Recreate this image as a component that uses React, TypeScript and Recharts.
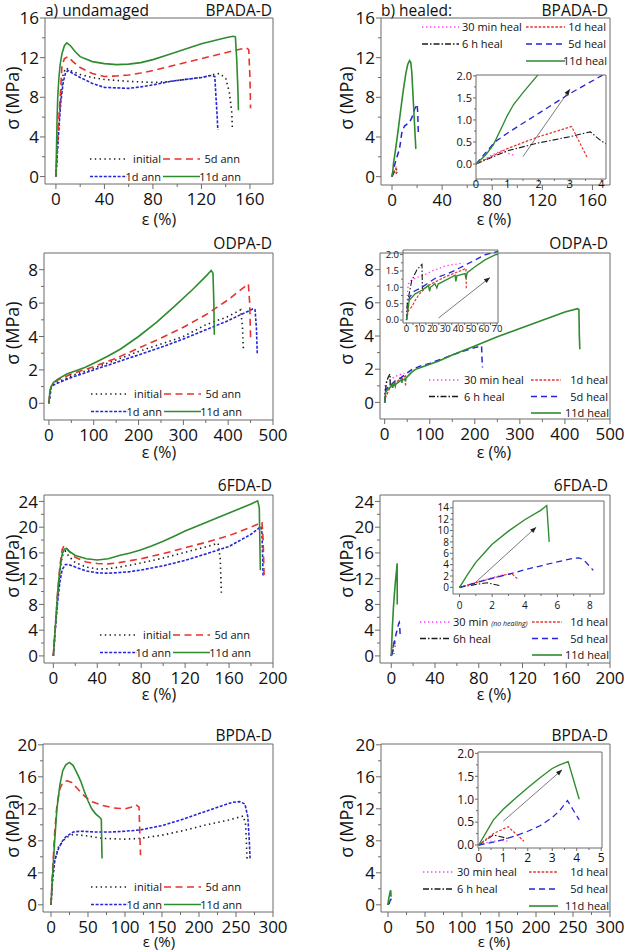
import React from 'react'
import { LineChart, Line, XAxis, YAxis } from 'recharts'

const FONT = "'Open Sans', 'DejaVu Sans', sans-serif"
const AXIS = '#6b6b6b'
const INK = '#111'

// ---------- data: strain ε (%), stress σ (MPa) ----------

// BPADA-D, undamaged / annealed
const bpadaInitial = [[0, 0], [2, 4.5], [4, 8], [6, 10.3], [8, 10.95], [12, 10.7], [20, 10.3], [30, 10], [40, 9.8], [50, 9.7], [60, 9.6], [70, 9.55], [80, 9.5], [90, 9.55], [100, 9.7], [110, 9.85], [120, 10.0], [130, 10.3], [135, 10.4], [140, 9.9], [143, 8.5], [145, 6.5], [145.5, 4.8]]
const bpada1d = [[0, 0], [2, 4], [4, 7.5], [6, 9.5], [8, 10.5], [10, 10.7], [14, 10.4], [20, 10], [30, 9.4], [40, 9.0], [50, 8.95], [60, 8.9], [70, 9.05], [80, 9.25], [90, 9.5], [100, 9.7], [110, 9.85], [120, 10.0], [128, 10.2], [131, 10.1], [132, 8], [133, 6], [133.5, 4.7]]
const bpada5d = [[0, 0], [2, 5], [4, 9], [5, 11.2], [7, 11.9], [10, 12.1], [14, 11.6], [20, 11], [30, 10.4], [40, 10.1], [50, 10.15], [60, 10.25], [70, 10.45], [80, 10.7], [90, 11], [100, 11.3], [110, 11.6], [120, 11.9], [130, 12.2], [140, 12.5], [150, 12.8], [157, 13.0], [159, 12.8], [160, 10], [160.5, 6.9]]
const bpada11d = [[0, 0], [0.5, 3], [1, 6], [1.5, 8], [2.5, 10], [3.5, 11.3], [5, 12.4], [7, 13.2], [9, 13.5], [12, 13.2], [16, 12.6], [20, 12.1], [30, 11.6], [40, 11.4], [50, 11.3], [60, 11.35], [70, 11.5], [80, 11.8], [90, 12.2], [100, 12.6], [110, 13.0], [120, 13.4], [130, 13.7], [140, 14.0], [146, 14.15], [148, 14.1], [149, 12], [150, 9], [150.5, 6.7]]

// BPADA-D, healed
const bpadaH30min = [[0, 0], [0.5, 0.2], [0.8, 0.3], [1.0, 0.25], [1.2, 0.2]]
const bpadaH6h = [[0, 0], [1, 0.3], [2, 0.48], [3, 0.62], [3.65, 0.73], [4, 0.52], [4.3, 0.4]]
const bpadaH1d = [[0, 0], [1, 0.35], [2, 0.62], [3.05, 0.85], [3.55, 0.15]]
const bpadaH5d = [[0, 0], [0.3, 0.25], [0.6, 0.5], [1, 0.7], [2, 1.15], [3, 1.6], [4, 2.0], [6, 2.8], [8, 4.6], [10, 5.1], [12, 5.3], [14, 5.5], [16, 6.0], [18, 6.8], [20, 7.3], [20.5, 6.5], [21, 4.4]]
const bpadaH11d = [[0, 0], [0.3, 0.2], [0.55, 0.43], [0.8, 0.8], [1.0, 1.1], [1.2, 1.35], [1.5, 1.62], [1.95, 2.0], [3, 2.9], [5, 4.8], [7, 6.8], [9, 8.7], [11, 10.4], [12.5, 11.3], [14, 11.7], [15, 11.5], [15.8, 10.5], [17, 7.6], [19, 2.8]]
const bpadaArrow = [[1.5, 0.17], [3.0, 1.7]]

// ODPA-D, undamaged / annealed
const odpaInitial = [[0, 0], [5, 1.0], [10, 1.15], [50, 1.65], [100, 2.1], [150, 2.6], [200, 3.1], [250, 3.55], [300, 4.0], [350, 4.7], [400, 5.2], [428, 5.6], [432, 4.5], [434, 3.2]]
const odpa1d = [[0, 0], [5, 0.95], [10, 1.1], [50, 1.55], [100, 2.0], [150, 2.45], [200, 2.9], [250, 3.35], [300, 3.85], [350, 4.4], [400, 4.95], [455, 5.65], [460, 5.6], [463, 4.5], [465, 2.9]]
const odpa5d = [[0, 0], [2, 0.7], [5, 1.0], [10, 1.2], [20, 1.4], [50, 1.75], [100, 2.2], [150, 2.7], [200, 3.3], [250, 3.9], [300, 4.55], [350, 5.3], [400, 6.2], [440, 7.05], [445, 7.15], [448, 6], [450, 3.9]]
const odpa11d = [[0, 0], [2, 0.7], [5, 1.0], [10, 1.25], [20, 1.45], [40, 1.75], [60, 1.95], [80, 2.15], [100, 2.4], [130, 2.8], [160, 3.25], [200, 4.0], [240, 4.85], [280, 5.8], [320, 6.8], [350, 7.6], [362, 7.95], [366, 7.8], [368, 6], [369, 4.1]]

// ODPA-D, healed
const odpaH30min = [[0, 0], [0.5, 0.6], [1, 0.95], [1.5, 1.1], [3, 1.2], [8, 1.3], [15, 1.4], [20, 1.5], [30, 1.65], [40, 1.72], [44, 1.75]]
const odpaH6h = [[0, 0], [0.5, 0.45], [1.6, 0.7], [4, 1.2], [8, 1.53], [11.3, 1.68], [12, 1.7], [12.3, 0.95]]
const odpaH1d = [[0, 0], [1.6, 0.3], [4, 0.4], [6.7, 0.6], [10, 0.8], [17, 1.06], [30, 1.32], [42.7, 1.52], [46, 1.58], [46.3, 0.96]]
const odpaH5d = [[0, 0], [1, 0.45], [2.4, 0.7], [6, 0.88], [11.9, 1.0], [22, 1.27], [35, 1.47], [48, 1.73], [60.7, 1.99], [80, 2.2], [100, 2.35], [130, 2.65], [150, 2.85], [170, 3.05], [200, 3.3], [215, 3.4], [216, 2.6], [217, 2.1]]
const odpaH11d = [[0, 0], [2.1, 0.6], [6.7, 0.8], [11.9, 0.91], [17, 1.06], [17.9, 0.88], [18.5, 1.0], [22, 1.11], [23.5, 0.98], [24.5, 1.1], [30, 1.21], [37.6, 1.37], [38.2, 1.18], [39, 1.35], [45.3, 1.42], [46, 1.27], [47, 1.45], [53, 1.63], [60.7, 1.84], [68.5, 1.99], [80, 2.1], [100, 2.3], [120, 2.5], [150, 2.85], [200, 3.4], [250, 3.95], [300, 4.45], [350, 4.95], [400, 5.45], [428, 5.65], [431, 5.6], [432, 4], [433, 3.2]]
const odpaArrow = [[24.7, 0.06], [64.6, 1.3]]

// 6FDA-D, undamaged / annealed
const fdaInitial = [[0, 0], [2, 5], [4, 9.5], [6, 13], [8, 15.5], [11, 16.3], [14, 15.5], [20, 14.5], [30, 13.8], [40, 13.5], [50, 13.55], [60, 13.8], [70, 14.1], [80, 14.45], [100, 15.2], [120, 16.1], [140, 17.0], [150, 17.5], [152, 15], [153, 9.7]]
const fda1d = [[0, 0], [2, 4.5], [4, 8.5], [6, 11.5], [8, 13.4], [11, 14.2], [14, 14.2], [20, 13.8], [30, 13.2], [40, 12.9], [50, 12.85], [60, 12.95], [70, 13.1], [80, 13.35], [100, 14.0], [120, 14.85], [140, 15.9], [160, 17.0], [180, 18.9], [189, 20.1], [190, 19], [191, 12.5]]
const fda5d = [[0, 0], [2, 5], [4, 10], [6, 14], [8, 16.5], [10, 17.2], [14, 16.3], [20, 15.3], [30, 14.6], [40, 14.35], [50, 14.3], [60, 14.5], [70, 14.8], [80, 15.1], [100, 15.9], [120, 16.8], [140, 17.7], [160, 18.7], [180, 20.0], [190, 20.8], [191, 18], [192, 12]]
const fda11d = [[0, 0], [2, 5], [4, 10], [6, 13.5], [8, 15.8], [10, 16.6], [12, 16.7], [15, 16.2], [20, 15.6], [30, 15.1], [40, 14.9], [50, 15.1], [60, 15.6], [70, 16.0], [80, 16.5], [90, 17.1], [100, 17.8], [110, 18.6], [120, 19.4], [130, 20.1], [140, 20.8], [150, 21.5], [160, 22.2], [170, 22.9], [180, 23.6], [186, 24.1], [187.5, 23], [188, 18], [188.5, 13.3]]

// 6FDA-D, healed
const fdaH30min = [[0, 0], [1, 0.9], [2, 1.7], [2.8, 2.3]]
const fdaH6h = [[0, 0], [1, 0.5], [1.7, 0.8], [2.5, 0.3]]
const fdaH1d = [[0, 0], [1, 0.8], [2, 1.6], [3, 2.35], [3.2, 2.4], [3.6, 1.4]]
const fdaH5d = [[0, 0], [1, 0.8], [2, 1.6], [3, 2.3], [4, 3.1], [5, 3.8], [6, 4.5], [7, 5.1], [7.3, 5.2], [7.6, 4.9], [8.2, 3.0]]
const fdaH11d = [[0, 0], [0.5, 2.3], [1, 4.4], [1.5, 6], [2, 7.6], [3, 9.9], [4, 11.9], [5, 13.6], [5.35, 14.4], [5.5, 8.0]]
const fdaArrow = [[0.8, 0.4], [4.7, 10.6]]

// BPDA-D, undamaged / annealed
const bpdaInitial = [[0, 0], [2, 3], [5, 5.5], [10, 7.2], [20, 8.4], [30, 8.8], [50, 8.6], [70, 8.3], [100, 8.2], [120, 8.3], [150, 8.7], [180, 9.3], [210, 10], [240, 10.6], [260, 11.1], [263, 10], [264, 8], [265, 5.7]]
const bpda1d = [[0, 0], [2, 3], [5, 5.5], [10, 7], [15, 7.9], [20, 8.5], [30, 9.1], [40, 9.2], [60, 9.1], [80, 9.1], [100, 9.2], [120, 9.35], [150, 9.9], [175, 10.6], [200, 11.4], [225, 12.2], [245, 12.8], [255, 12.9], [262, 12.6], [266, 11], [268, 8], [269, 5.8]]
const bpda5d = [[0, 0], [2, 4], [5, 9], [8, 12.5], [12, 14.5], [16, 15.3], [22, 15.5], [28, 15.3], [35, 14.6], [45, 13.6], [55, 12.9], [70, 12.4], [85, 12.1], [100, 12.0], [108, 12.2], [115, 12.5], [119, 12.2], [120, 9], [121, 6.2]]
const bpda11d = [[0, 0], [2, 3.5], [5, 8], [8, 12], [12, 15], [16, 16.8], [20, 17.5], [25, 17.8], [30, 17.4], [35, 16.5], [40, 15.5], [45, 14.2], [50, 13], [55, 12], [60, 11.4], [65, 11], [68, 10.7], [68.5, 8], [69, 5.8]]

// BPDA-D, healed
const bpdaH30min = [[0, 0], [0.5, 0.08], [1.0, 0.1], [1.2, 0.08]]
const bpdaH6h = [[0, 0], [0.6, 0.22], [0.9, 0.18], [1.2, 0.14]]
const bpdaH1d = [[0, 0], [0.6, 0.25], [1.2, 0.4], [1.85, 0.08]]
const bpdaH5d = [[0, 0], [0.5, 0.05], [1, 0.12], [1.5, 0.2], [2, 0.3], [2.5, 0.42], [3, 0.6], [3.3, 0.75], [3.62, 0.97], [4.1, 0.55]]
const bpdaH11d = [[0, 0], [0.6, 0.55], [1, 0.78], [1.5, 1.02], [2, 1.25], [2.5, 1.47], [3, 1.67], [3.3, 1.75], [3.65, 1.82], [4.1, 1.0]]
const bpdaArrow = [[1.0, 0.52], [3.4, 1.64]]

// ---------- tick labels ----------
const t0to160 = [0, 40, 80, 120, 160]
const t0to500 = [0, 100, 200, 300, 400, 500]
const t0to200 = [0, 40, 80, 120, 160, 200]
const t0to300 = [0, 50, 100, 150, 200, 250, 300]
const s0to16 = [0, 4, 8, 12, 16]
const s0to8 = [0, 2, 4, 6, 8]
const s0to24 = [0, 4, 8, 12, 16, 20, 24]
const s0to20 = [0, 4, 8, 12, 16, 20]
const in0to4 = [0, 1, 2, 3, 4]
const in0to5 = [0, 1, 2, 3, 4, 5]
const in0to70 = [0, 10, 20, 30, 40, 50, 60, 70]
const in0to8 = [0, 2, 4, 6, 8]
const in0to2 = [0, 0.5, 1, 1.5, 2]
const in0to14 = [0, 2, 4, 6, 8, 10, 12, 14]

// ---------- styles ----------
type Style = { stroke: string; dash?: string; width?: number }
const sInitial: Style = { stroke: '#1a1a1a', dash: '1.4 3.4', width: 1.6 }
const s1dAnn: Style = { stroke: '#2525d9', dash: '3 1.6', width: 1.6 }
const s5dAnn: Style = { stroke: '#e8322c', dash: '7 4.5', width: 1.6 }
const s11d: Style = { stroke: '#2e8b2e', width: 1.6 }
const s30min: Style = { stroke: '#ff3dff', dash: '1.4 2.6', width: 1.5 }
const s6h: Style = { stroke: '#1a1a1a', dash: '6 2 1.5 2', width: 1.3 }
const s1dHeal: Style = { stroke: '#e8322c', dash: '2.6 1.6', width: 1.4 }
const s5dHeal: Style = { stroke: '#2525d9', dash: '6 4', width: 1.5 }

type Series = { data: number[][]; style: Style }
const annSeries = (a: number[][], b: number[][], c: number[][], d: number[][]): Series[] => [
  { data: a, style: sInitial },
  { data: b, style: s1dAnn },
  { data: c, style: s5dAnn },
  { data: d, style: s11d },
]
const healSeries = (a: number[][], b: number[][], c: number[][], d: number[][], e: number[][]): Series[] => [
  { data: a, style: s30min },
  { data: b, style: s6h },
  { data: c, style: s1dHeal },
  { data: d, style: s5dHeal },
  { data: e, style: s11d },
]

const pts = (arr: number[][]) => arr.map(([x, y]) => ({ x, y }))
const mids = (arr: number[]) => arr.slice(1).map((v, i) => (v + arr[i]) / 2)

type Frame = { l: number; t: number; r: number; b: number }
type PlotProps = {
  frame: Frame
  xDomain: [number, number]
  yDomain: [number, number]
  xMajor: number[]
  yMajor: number[]
  series: Series[]
  arrow?: number[][]
  inset?: boolean
  fs?: number
  xLabelDy?: number
  fmtY?: (v: number) => string
}

function Plot(p: PlotProps) {
  const inset = !!p.inset
  const fs = p.fs ?? (inset ? 11 : 17)
  const majorLen = inset ? 3 : 5
  const minorLen = inset ? 2 : 3
  const pad = inset ? { l: 26, t: 8, r: 6, b: 22 } : { l: 45, t: 12, r: 24, b: 32 }
  const w = p.frame.r - p.frame.l + pad.l + pad.r
  const h = p.frame.b - p.frame.t + pad.t + pad.b
  const fmtY = p.fmtY ?? ((v: number) => String(v))
  const xLabelDy = p.xLabelDy ?? (inset ? 9 : 21)
  const has = (list: number[], v: number) => list.some((m) => Math.abs(m - v) < 1e-9)

  const xTick = (props: any) => {
    const { x, y, payload } = props
    const major = has(p.xMajor, payload.value)
    return (
      <g>
        <line x1={x} x2={x} y1={y} y2={y + (major ? majorLen : minorLen)} stroke={AXIS} />
        {major && (
          <text x={x} y={y + xLabelDy} textAnchor="middle" fontSize={fs} fontFamily={FONT} fill={INK}>
            {payload.value}
          </text>
        )}
      </g>
    )
  }
  const yTick = (props: any) => {
    const { x, y, payload } = props
    const major = has(p.yMajor, payload.value)
    return (
      <g>
        <line x1={x - (major ? majorLen : minorLen)} x2={x} y1={y} y2={y} stroke={AXIS} />
        {major && (
          <text x={x - (inset ? 4 : 6)} y={y + fs * 0.36} textAnchor="end" fontSize={fs} fontFamily={FONT} fill={INK}>
            {fmtY(payload.value)}
          </text>
        )}
      </g>
    )
  }

  let prev: { x: number; y: number } | null = null
  const arrowDot = (props: any) => {
    const { cx, cy, index } = props
    if (index === 0 || prev === null) {
      prev = { x: cx, y: cy }
      return <g key={`a${index}`} />
    }
    const ang = Math.atan2(cy - prev.y, cx - prev.x)
    const L = 6, W = 2.4
    const bx = cx - L * Math.cos(ang), by = cy - L * Math.sin(ang)
    const nx = -Math.sin(ang) * W, ny = Math.cos(ang) * W
    return <path key={`a${index}`} d={`M${cx},${cy} L${bx + nx},${by + ny} L${bx - nx},${by - ny} Z`} fill="#222" />
  }

  // axes get a 1px box (a 0px axis is not drawn), taken out of the margins
  return (
    <div style={{ position: 'absolute', left: p.frame.l - pad.l, top: p.frame.t - pad.t }}>
      <LineChart width={w} height={h} margin={{ top: pad.t - 1, right: pad.r - 1, bottom: pad.b - 1, left: pad.l - 1 }}>
        <XAxis
          type="number"
          dataKey="x"
          domain={p.xDomain}
          allowDataOverflow
          ticks={[...p.xMajor, ...mids(p.xMajor)].sort((a, b) => a - b)}
          interval={0}
          height={1}
          tickSize={0}
          tickMargin={0}
          tickLine={false}
          axisLine={{ stroke: AXIS }}
          tick={xTick}
        />
        <YAxis
          type="number"
          domain={p.yDomain}
          allowDataOverflow
          ticks={[...p.yMajor, ...mids(p.yMajor)].sort((a, b) => a - b)}
          interval={0}
          width={1}
          tickSize={0}
          tickMargin={0}
          tickLine={false}
          axisLine={{ stroke: AXIS }}
          tick={yTick}
        />
        <XAxis xAxisId="top" orientation="top" type="number" domain={p.xDomain} allowDataOverflow height={1} tick={false} tickLine={false} axisLine={{ stroke: AXIS }} />
        <YAxis yAxisId="right" orientation="right" type="number" domain={p.yDomain} allowDataOverflow width={1} tick={false} tickLine={false} axisLine={{ stroke: AXIS }} />
        {p.arrow && (
          <Line
            data={pts(p.arrow)}
            dataKey="y"
            type="linear"
            stroke="#7a7a7a"
            strokeWidth={1}
            dot={arrowDot}
            activeDot={false}
            isAnimationActive={false}
          />
        )}
        {p.series.map((s, i) => (
          <Line
            key={i}
            data={pts(s.data)}
            dataKey="y"
            type="linear"
            stroke={s.style.stroke}
            strokeWidth={(s.style.width ?? 1.5) * (inset ? 0.85 : 1)}
            strokeDasharray={s.style.dash}
            dot={false}
            activeDot={false}
            isAnimationActive={false}
          />
        ))}
      </LineChart>
    </div>
  )
}

// ---------- legends ----------
type LegendItem = { label: string; note?: string; style: Style; line: [number, number]; tx: number; anchor: 'start' | 'end'; y: number }

const annLegend = (x: number, y: number): LegendItem[] => [
  { label: 'initial', style: sInitial, line: [x, x + 37], tx: x + 71, anchor: 'end', y },
  { label: '5d ann', style: s5dAnn, line: [x + 73, x + 110], tx: x + 150, anchor: 'end', y },
  { label: '1d ann', style: s1dAnn, line: [x, x + 37], tx: x + 71, anchor: 'end', y: y + 17.5 },
  { label: '11d ann', style: s11d, line: [x + 73, x + 110], tx: x + 151, anchor: 'end', y: y + 17.5 },
]

const healLegend = (
  c0: [number, number], tx0: number, c1: [number, number], te: number, y: number, dy: number,
  l30 = '30 min heal', note?: string, l6 = '6 h heal',
): LegendItem[] => [
  { label: l30, note, style: s30min, line: c0, tx: tx0, anchor: 'start', y },
  { label: '1d heal', style: s1dHeal, line: c1, tx: te, anchor: 'end', y },
  { label: l6, style: s6h, line: c0, tx: tx0, anchor: 'start', y: y + dy },
  { label: '5d heal', style: s5dHeal, line: c1, tx: te, anchor: 'end', y: y + dy },
  { label: '11d heal', style: s11d, line: c1, tx: te + 1, anchor: 'end', y: y + 2 * dy },
]

const legends: LegendItem[] = [
  ...annLegend(90, 159),
  ...annLegend(91, 394),
  ...annLegend(100, 635),
  ...annLegend(91, 887),
  ...healLegend([422, 459], 462, [526, 565], 606, 27, 17),
  ...healLegend([429, 460], 464, [531, 561], 608, 380, 16.5),
  ...healLegend([420, 451], 453, [532, 562], 608, 622, 16.5, '30 min', '(no healing)', '6h heal'),
  ...healLegend([423, 454], 457, [529, 558], 608, 872, 17),
]

const titles = [
  { text: 'BPADA-D', x: 272, y: 15.5 }, { text: 'BPADA-D', x: 608, y: 15.5 },
  { text: 'ODPA-D', x: 272, y: 249 }, { text: 'ODPA-D', x: 608, y: 249 },
  { text: '6FDA-D', x: 272, y: 491 }, { text: '6FDA-D', x: 608, y: 491 },
  { text: 'BPDA-D', x: 272, y: 741 }, { text: 'BPDA-D', x: 608, y: 741 },
]
const rowMid = [98, 333, 566, 826]
const rowEps = [225, 458, 700, 947]

function Overlay() {
  return (
    <svg width={625} height={952} style={{ position: 'absolute', left: 0, top: 0, pointerEvents: 'none' }}>
      <text x={45} y={15.5} fontSize={15.5} fontFamily={FONT} fill={INK}>a) undamaged</text>
      <text x={381} y={15.5} fontSize={15.5} fontFamily={FONT} fill={INK}>b) healed:</text>
      {titles.map((t, i) => (
        <text key={i} x={t.x} y={t.y} textAnchor="end" fontSize={15.5} fontFamily={FONT} fill={INK}>{t.text}</text>
      ))}
      {rowMid.map((m, i) => (
        <g key={i}>
          <text transform={`translate(19 ${m}) rotate(-90)`} textAnchor="middle" fontSize={18} fontFamily={FONT} fill={INK}>σ (MPa)</text>
          <text transform={`translate(353 ${m}) rotate(-90)`} textAnchor="middle" fontSize={18} fontFamily={FONT} fill={INK}>σ (MPa)</text>
          <text x={159} y={rowEps[i]} textAnchor="middle" fontSize={i === 3 ? 15 : 16} fontFamily={FONT} fill={INK}>ε (%)</text>
          <text x={494} y={rowEps[i]} textAnchor="middle" fontSize={i === 3 ? 15 : 16} fontFamily={FONT} fill={INK}>ε (%)</text>
        </g>
      ))}
      {legends.map((it, i) => (
        <g key={`l${i}`}>
          <line x1={it.line[0]} x2={it.line[1]} y1={it.y} y2={it.y} stroke={it.style.stroke} strokeWidth={1.6} strokeDasharray={it.style.dash} />
          <text x={it.tx} y={it.y + 4} textAnchor={it.anchor} fontSize={11} fontFamily={FONT} fill={INK}>
            {it.label}
            {it.note && <tspan fontSize={7} fontStyle="italic" dx={3}>{it.note}</tspan>}
          </text>
        </g>
      ))}
    </svg>
  )
}

const fmt1 = (v: number) => v.toFixed(1)

export default function App() {
  return (
    <div style={{ position: 'absolute', left: 0, top: 0, width: 625, height: 952, background: '#fff', overflow: 'hidden' }}>
      {/* row 1: BPADA-D */}
      <Plot frame={{ l: 45, t: 18, r: 273, b: 184 }} xDomain={[-9, 179]} yDomain={[-0.75, 16]} xMajor={t0to160} yMajor={s0to16}
        series={annSeries(bpadaInitial, bpada1d, bpada5d, bpada11d)} />
      <Plot frame={{ l: 381, t: 18, r: 610, b: 185 }} xDomain={[-8.8, 174]} yDomain={[-0.84, 16]} xMajor={t0to160} yMajor={s0to16}
        series={healSeries(bpadaH30min, bpadaH6h, bpadaH1d, bpadaH5d, bpadaH11d)} />
      <Plot inset frame={{ l: 476, t: 75, r: 606, b: 179 }} xDomain={[0, 4.15]} yDomain={[-0.34, 2.02]} xMajor={in0to4} yMajor={in0to2}
        fmtY={fmt1} series={healSeries(bpadaH30min, bpadaH6h, bpadaH1d, bpadaH5d, bpadaH11d)} arrow={bpadaArrow} />

      {/* row 2: ODPA-D */}
      <Plot frame={{ l: 44, t: 253, r: 273, b: 420 }} xDomain={[-11, 500]} yDomain={[-1, 9]} xMajor={t0to500} yMajor={s0to8}
        series={annSeries(odpaInitial, odpa1d, odpa5d, odpa11d)} />
      <Plot frame={{ l: 380, t: 253, r: 610, b: 419 }} xDomain={[-10.4, 500]} yDomain={[-1, 9]} xMajor={t0to500} yMajor={s0to8}
        series={healSeries(odpaH30min, odpaH6h, odpaH1d, odpaH5d, odpaH11d)} />
      <Plot inset frame={{ l: 403, t: 250, r: 498, b: 323 }} xDomain={[-2.7, 70.8]} yDomain={[-0.09, 2.14]} xMajor={in0to70} yMajor={in0to2}
        fs={9.5} fmtY={fmt1} series={healSeries(odpaH30min, odpaH6h, odpaH1d, odpaH5d, odpaH11d)} arrow={odpaArrow} />

      {/* row 3: 6FDA-D */}
      <Plot frame={{ l: 44, t: 495, r: 273, b: 663 }} xDomain={[-8.5, 200]} yDomain={[-1.1, 25]} xMajor={t0to200} yMajor={s0to24}
        series={annSeries(fdaInitial, fda1d, fda5d, fda11d)} />
      <Plot frame={{ l: 380, t: 495, r: 610, b: 663 }} xDomain={[-10.3, 200]} yDomain={[-1.1, 25]} xMajor={t0to200} yMajor={s0to24}
        series={healSeries(fdaH30min, fdaH6h, fdaH1d, fdaH5d, fdaH11d)} />
      <Plot inset frame={{ l: 453, t: 501, r: 604, b: 594 }} xDomain={[-0.4, 8.86]} yDomain={[-1.17, 15.2]} xMajor={in0to8} yMajor={in0to14}
        fs={10} xLabelDy={15} series={healSeries(fdaH30min, fdaH6h, fdaH1d, fdaH5d, fdaH11d)} arrow={fdaArrow} />

      {/* row 4: BPDA-D */}
      <Plot frame={{ l: 43, t: 744, r: 273, b: 912 }} xDomain={[-10.8, 300]} yDomain={[-0.9, 20.1]} xMajor={t0to300} yMajor={s0to20}
        series={annSeries(bpdaInitial, bpda1d, bpda5d, bpda11d)} />
      <Plot frame={{ l: 381, t: 744, r: 610, b: 912 }} xDomain={[-9.5, 300]} yDomain={[-0.9, 20.1]} xMajor={t0to300} yMajor={s0to20}
        series={healSeries(bpdaH30min, bpdaH6h, bpdaH1d, bpdaH5d, bpdaH11d)} />
      <Plot inset frame={{ l: 478, t: 752, r: 602, b: 848 }} xDomain={[-0.03, 5.03]} yDomain={[-0.065, 2.03]} xMajor={in0to5} yMajor={in0to2}
        fs={12} xLabelDy={14} fmtY={fmt1} series={healSeries(bpdaH30min, bpdaH6h, bpdaH1d, bpdaH5d, bpdaH11d)} arrow={bpdaArrow} />

      <Overlay />
    </div>
  )
}
